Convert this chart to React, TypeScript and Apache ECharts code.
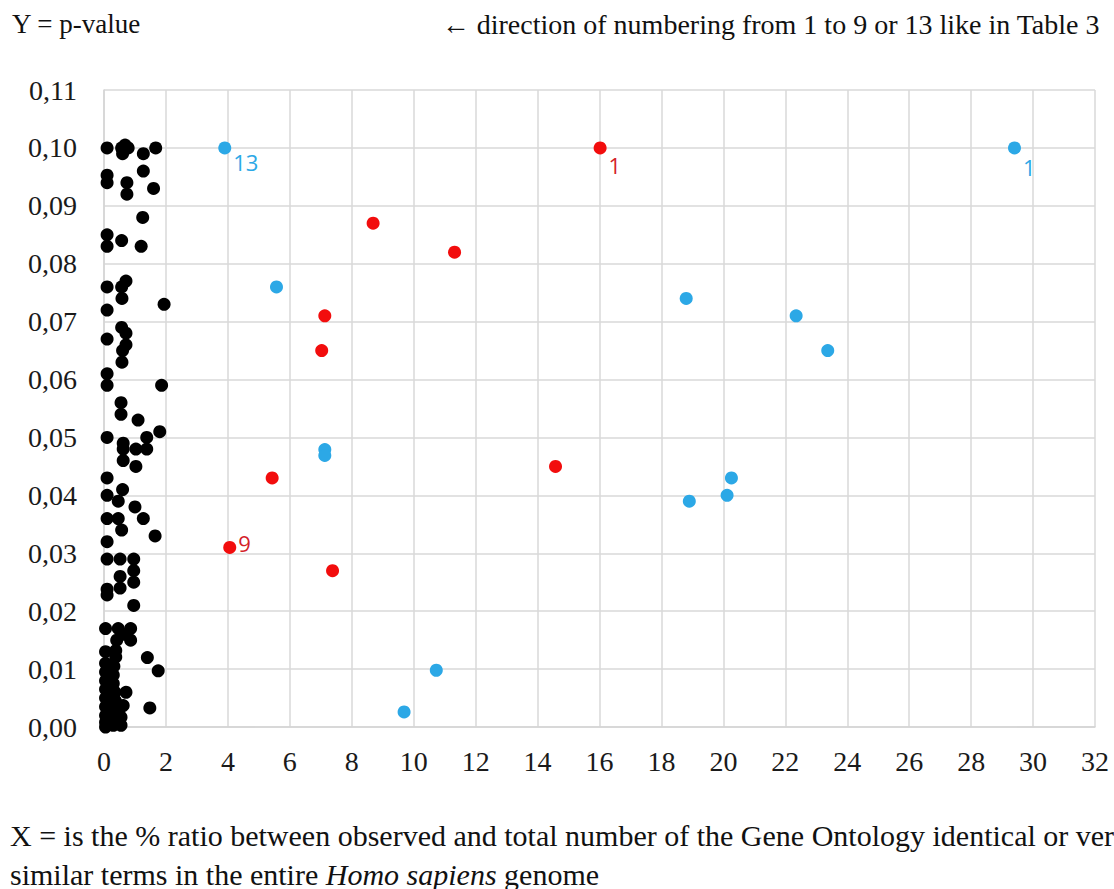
import React, { useEffect, useRef } from "react";
import * as echarts from "echarts";

// Black points: % ratio (x) vs p-value (y)
const blackPoints: [number, number][] = [
  [0.1, 0.1], [0.57, 0.1], [0.68, 0.1005], [0.78, 0.1], [0.6, 0.099], [1.27, 0.099], [1.67, 0.1],
  [1.27, 0.096], [0.1, 0.0953], [0.1, 0.094], [0.74, 0.094], [0.74, 0.092], [1.6, 0.093],
  [1.25, 0.088], [0.1, 0.085], [0.1, 0.083], [0.57, 0.084], [1.2, 0.083],
  [0.1, 0.076], [0.71, 0.077], [0.57, 0.076], [0.58, 0.074], [1.94, 0.073], [0.1, 0.072],
  [0.57, 0.069], [0.71, 0.068], [0.1, 0.067], [0.71, 0.066], [0.6, 0.065], [0.58, 0.063],
  [0.1, 0.061], [0.1, 0.059], [1.86, 0.059], [0.55, 0.056], [0.55, 0.054], [1.1, 0.053],
  [0.1, 0.05], [1.8, 0.051], [1.38, 0.05], [0.62, 0.049], [0.62, 0.048], [1.03, 0.048],
  [1.38, 0.048], [0.62, 0.046], [1.03, 0.045], [0.1, 0.043], [0.6, 0.041], [0.1, 0.04],
  [0.46, 0.039], [1.0, 0.038], [0.1, 0.036], [0.46, 0.036], [1.27, 0.036], [0.57, 0.034],
  [1.65, 0.033], [0.1, 0.032], [0.1, 0.029], [0.52, 0.029], [0.96, 0.029], [0.96, 0.027],
  [0.52, 0.026], [0.96, 0.025], [0.52, 0.024], [0.1, 0.0238], [0.1, 0.0228], [0.96, 0.021],
  [0.05, 0.017], [0.46, 0.017], [0.86, 0.017], [0.62, 0.016], [0.41, 0.015], [0.86, 0.015],
  [0.05, 0.013], [0.38, 0.0132], [0.38, 0.0121], [1.4, 0.012], [1.75, 0.0097],
  [0.05, 0.011], [0.05, 0.0095], [0.05, 0.008], [0.05, 0.0065], [0.05, 0.005], [0.05, 0.0035],
  [0.05, 0.002], [0.05, 0.0008], [0.05, 0.0],
  [0.32, 0.0105], [0.3, 0.009], [0.3, 0.0075], [0.35, 0.006], [0.37, 0.0045], [0.35, 0.003],
  [0.32, 0.0015], [0.3, 0.0003],
  [0.71, 0.006], [0.62, 0.0037], [1.48, 0.0033], [0.55, 0.0017], [0.55, 0.0003],
];

// Red points (numbered 1 to 9)
const redPoints: [number, number][] = [
  [16.02, 0.1], [8.69, 0.087], [11.32, 0.082], [7.13, 0.071], [7.03, 0.065],
  [14.58, 0.045], [5.43, 0.043], [7.38, 0.027], [4.06, 0.031],
];
const redLabels: Record<number, string> = { 0: "1", 8: "9" };

// Blue points (numbered 1 to 13)
const bluePoints: [number, number][] = [
  [29.4, 0.1], [23.37, 0.065], [22.35, 0.071], [18.8, 0.074], [20.26, 0.043], [20.12, 0.04],
  [18.9, 0.039], [7.13, 0.0479], [7.13, 0.0469], [10.73, 0.0098], [9.69, 0.0026],
  [5.57, 0.076], [3.9, 0.1],
];
const blueLabels: Record<number, string> = { 0: "1", 12: "13" };

const xTicks = { min: 0, max: 32, interval: 2 };
const yTicks = { min: 0, max: 0.11, interval: 0.01 };

const SERIF = "'Liberation Serif', 'Times New Roman', serif";
const SANS = "'Open Sans', 'Noto Sans', sans-serif";
const BLUE = "#2CA8E6";
const RED = "#F20D0D";
const RED_LABEL = "#D42128";

export default function App() {
  const ref = useRef<HTMLDivElement>(null);

  useEffect(() => {
    document.body.style.margin = "0";
    if (!ref.current) return;
    const chart = echarts.init(ref.current, null, { renderer: "svg" });

    const labelOffsets: Record<string, [number, number]> = {
      "blue-0": [0, 19],
      "blue-12": [0, 14],
      "red-0": [0, 17],
      "red-8": [0, -4],
    };

    const mk = (pts: [number, number][], labels: Record<number, string>, key: string, color: string) =>
      pts.map((p, i) =>
        labels[i] !== undefined
          ? {
              value: p,
              label: {
                show: true,
                formatter: labels[i],
                position: "right",
                distance: 2,
                offset: labelOffsets[`${key}-${i}`],
                color,
                fontSize: 22,
                fontFamily: SANS,
              },
            }
          : { value: p }
      );

    chart.setOption({
      animation: false,
      backgroundColor: "#ffffff",
      grid: { left: 104, right: 19, top: 90, bottom: 162, containLabel: false },
      xAxis: {
        type: "value",
        ...xTicks,
        axisLine: { show: true, lineStyle: { color: "#D4D4D4", width: 1.5 } },
        axisTick: { show: false },
        splitLine: { show: true, lineStyle: { color: "#D9D9D9", width: 1.5 } },
        axisLabel: { color: "#1a1a1a", fontSize: 28, fontFamily: SERIF, margin: 20 },
      },
      yAxis: {
        type: "value",
        ...yTicks,
        axisLine: { show: true, lineStyle: { color: "#D4D4D4", width: 1.5 } },
        axisTick: { show: false },
        splitLine: { show: true, lineStyle: { color: "#D9D9D9", width: 1.5 } },
        axisLabel: {
          color: "#1a1a1a",
          fontSize: 28,
          fontFamily: SERIF,
          margin: 27,
          formatter: (v: number) => v.toFixed(2).replace(".", ","),
        },
      },
      series: [
        {
          type: "scatter",
          symbolSize: 13,
          itemStyle: { color: "#000000", opacity: 1 },
          data: blackPoints,
          z: 2,
        },
        {
          type: "scatter",
          symbolSize: 13,
          itemStyle: { color: RED, opacity: 1 },
          data: mk(redPoints, redLabels, "red", RED_LABEL),
          z: 3,
        },
        {
          type: "scatter",
          symbolSize: 13,
          itemStyle: { color: BLUE, opacity: 1 },
          data: mk(bluePoints, blueLabels, "blue", BLUE),
          z: 4,
        },
      ],
      graphic: [
        {
          type: "text",
          left: 12,
          top: 10,
          style: { text: "Y = p-value", fontSize: 27, fontFamily: SERIF, fill: "#111" },
        },
        {
          type: "text",
          right: 14,
          top: 10,
          style: {
            text: "← direction of numbering from 1 to 9 or 13 like in Table 3",
            fontSize: 28,
            fontFamily: SERIF,
            fill: "#111",
          },
        },
        {
          type: "text",
          x: 10,
          y: 820,
          style: {
            text: "X = is the % ratio between observed and total number of the Gene Ontology identical or very",
            fontSize: 30,
            fontFamily: SERIF,
            fill: "#111",
          },
        },
        {
          type: "text",
          x: 10,
          y: 859,
          style: {
            text: "similar terms in the entire {i|Homo sapiens} genome",
            fontSize: 30,
            fontFamily: SERIF,
            fill: "#111",
            rich: { i: { fontStyle: "italic", fontSize: 30, fontFamily: SERIF, fill: "#111" } },
          },
        },
      ],
    });

    return () => chart.dispose();
  }, []);

  return <div ref={ref} style={{ width: 1114, height: 889, background: "#fff" }} />;
}
